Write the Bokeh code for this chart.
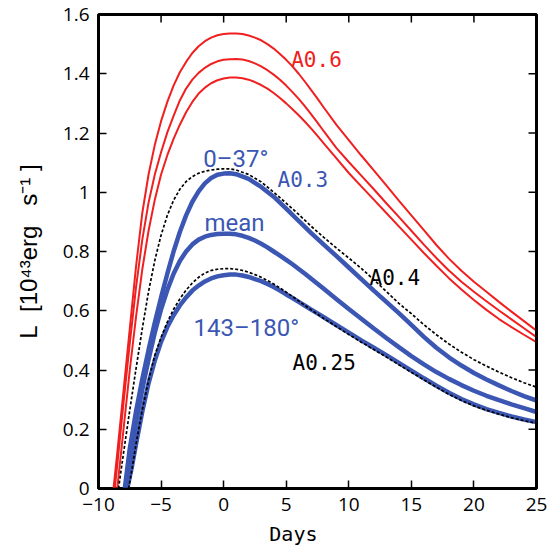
from bokeh.plotting import figure
from bokeh.models import FixedTicker, Label, Range1d
from bokeh.embed import file_html
from bokeh.resources import INLINE

# ---- data (days, luminosity in 1e43 erg/s) ----
r1_days = [-8.8, -8.5, -8.0, -7.5, -7.0, -6.5, -6.0, -5.5, -5.0, -4.5, -4.0, -3.5, -3.0, -2.5, -2.0, -1.5, -1.0, -0.5, 0.0, 0.5, 1.0, 1.5, 2.0, 2.5, 3.0, 3.5, 4.0, 4.5, 5.0, 5.5, 6.0, 6.5, 7.0, 7.5, 8.0, 9.0, 10.0, 11.0, 12.0, 13.0, 14.0, 15.0, 16.0, 17.0, 18.0, 19.0, 20.0, 21.0, 22.0, 23.0, 24.0, 25.0]
r1_lum = [0.0, 0.12, 0.33, 0.54, 0.75, 0.93, 1.06, 1.16, 1.24, 1.305, 1.36, 1.405, 1.44, 1.47, 1.493, 1.51, 1.522, 1.53, 1.534, 1.536, 1.536, 1.534, 1.529, 1.522, 1.513, 1.50, 1.485, 1.467, 1.447, 1.425, 1.40, 1.373, 1.345, 1.316, 1.286, 1.228, 1.176, 1.124, 1.074, 1.023, 0.972, 0.922, 0.872, 0.822, 0.776, 0.735, 0.698, 0.664, 0.63, 0.597, 0.565, 0.533]

r2_days = [-8.7, -8.5, -8.0, -7.5, -7.0, -6.5, -6.0, -5.5, -5.0, -4.5, -4.0, -3.5, -3.0, -2.5, -2.0, -1.5, -1.0, -0.5, 0.0, 0.5, 1.0, 1.5, 2.0, 2.5, 3.0, 3.5, 4.0, 4.5, 5.0, 5.5, 6.0, 6.5, 7.0, 7.5, 8.0, 9.0, 10.0, 11.0, 12.0, 13.0, 14.0, 15.0, 16.0, 17.0, 18.0, 19.0, 20.0, 21.0, 22.0, 23.0, 24.0, 25.0]
r2_lum = [0.0, 0.08, 0.29, 0.49, 0.68, 0.84, 0.965, 1.06, 1.135, 1.202, 1.258, 1.31, 1.35, 1.38, 1.403, 1.42, 1.433, 1.442, 1.447, 1.449, 1.45, 1.448, 1.443, 1.435, 1.425, 1.412, 1.397, 1.38, 1.36, 1.338, 1.315, 1.29, 1.263, 1.235, 1.206, 1.15, 1.102, 1.056, 1.01, 0.963, 0.917, 0.87, 0.823, 0.778, 0.736, 0.698, 0.664, 0.632, 0.601, 0.571, 0.541, 0.511]

r3_days = [-8.5, -8.0, -7.5, -7.0, -6.5, -6.0, -5.5, -5.0, -4.5, -4.0, -3.5, -3.0, -2.5, -2.0, -1.5, -1.0, -0.5, 0.0, 0.5, 1.0, 1.5, 2.0, 2.5, 3.0, 3.5, 4.0, 4.5, 5.0, 5.5, 6.0, 6.5, 7.0, 7.5, 8.0, 9.0, 10.0, 11.0, 12.0, 13.0, 14.0, 15.0, 16.0, 17.0, 18.0, 19.0, 20.0, 21.0, 22.0, 23.0, 24.0, 25.0]
r3_lum = [0.0, 0.20, 0.40, 0.58, 0.74, 0.87, 0.975, 1.06, 1.125, 1.18, 1.228, 1.27, 1.305, 1.333, 1.353, 1.368, 1.378, 1.384, 1.387, 1.387, 1.385, 1.38, 1.372, 1.362, 1.35, 1.335, 1.318, 1.30, 1.28, 1.26, 1.238, 1.215, 1.19, 1.165, 1.115, 1.065, 1.02, 0.975, 0.93, 0.885, 0.84, 0.795, 0.752, 0.71, 0.672, 0.636, 0.603, 0.572, 0.545, 0.519, 0.494]

a04_days = [-8.4, -8.0, -7.5, -7.0, -6.5, -6.0, -5.5, -5.0, -4.5, -4.0, -3.5, -3.0, -2.5, -2.0, -1.5, -1.0, -0.5, 0.0, 0.5, 1.0, 2.0, 3.0, 4.0, 5.0, 6.0, 7.0, 8.0, 9.0, 10.0, 11.0, 12.0, 13.0, 14.0, 15.0, 16.0, 17.0, 18.0, 19.0, 20.0, 21.0, 22.0, 23.0, 24.0, 25.0]
a04_lum = [0.0, 0.12, 0.265, 0.405, 0.54, 0.665, 0.77, 0.855, 0.922, 0.973, 1.01, 1.036, 1.053, 1.064, 1.071, 1.075, 1.078, 1.079, 1.079, 1.075, 1.06, 1.035, 1.0, 0.963, 0.925, 0.885, 0.848, 0.812, 0.778, 0.743, 0.705, 0.665, 0.625, 0.59, 0.553, 0.519, 0.488, 0.46, 0.435, 0.413, 0.393, 0.374, 0.357, 0.342]

b1_days = [-7.9, -7.5, -7.0, -6.5, -6.0, -5.5, -5.0, -4.5, -4.0, -3.5, -3.0, -2.5, -2.0, -1.5, -1.0, -0.5, 0.0, 0.5, 1.0, 2.0, 3.0, 4.0, 5.0, 6.0, 7.0, 8.0, 9.0, 10.0, 11.0, 12.0, 13.0, 14.0, 15.0, 16.0, 17.0, 18.0, 19.0, 20.0, 21.0, 22.0, 23.0, 24.0, 25.0]
b1_lum = [0.0, 0.135, 0.26, 0.37, 0.468, 0.56, 0.645, 0.725, 0.80, 0.866, 0.922, 0.968, 1.003, 1.03, 1.048, 1.059, 1.063, 1.064, 1.061, 1.045, 1.018, 0.985, 0.945, 0.903, 0.862, 0.823, 0.785, 0.746, 0.707, 0.668, 0.63, 0.592, 0.552, 0.512, 0.475, 0.443, 0.415, 0.39, 0.368, 0.348, 0.329, 0.312, 0.297]

b2_days = [-7.8, -7.5, -7.0, -6.5, -6.0, -5.5, -5.0, -4.5, -4.0, -3.5, -3.0, -2.5, -2.0, -1.5, -1.0, -0.5, 0.0, 0.5, 1.0, 1.5, 2.0, 2.5, 3.0, 3.5, 4.0, 4.5, 5.0, 5.5, 6.0, 6.5, 7.0, 7.5, 8.0, 9.0, 10.0, 11.0, 12.0, 13.0, 14.0, 15.0, 16.0, 17.0, 18.0, 19.0, 20.0, 21.0, 22.0, 23.0, 24.0, 25.0]
b2_lum = [0.0, 0.10, 0.225, 0.335, 0.435, 0.527, 0.605, 0.67, 0.725, 0.768, 0.80, 0.824, 0.84, 0.85, 0.856, 0.859, 0.86, 0.86, 0.858, 0.853, 0.846, 0.837, 0.826, 0.814, 0.80, 0.786, 0.772, 0.757, 0.741, 0.725, 0.708, 0.691, 0.674, 0.64, 0.606, 0.573, 0.54, 0.508, 0.477, 0.447, 0.419, 0.393, 0.37, 0.349, 0.33, 0.313, 0.298, 0.284, 0.271, 0.258]

b3_days = [-7.7, -7.34, -7.0, -6.5, -6.0, -5.5, -5.0, -4.5, -4.0, -3.5, -3.0, -2.5, -2.0, -1.5, -1.0, -0.5, 0.0, 0.5, 1.0, 1.5, 2.0, 2.5, 3.0, 3.5, 4.0, 4.5, 5.0, 5.5, 6.0, 6.5, 7.0, 7.5, 8.0, 9.0, 10.0, 11.0, 12.0, 13.0, 14.0, 15.0, 16.0, 17.0, 18.0, 19.0, 20.0, 21.0, 22.0, 23.0, 24.0, 25.0]
b3_lum = [0.0, 0.072, 0.15, 0.26, 0.355, 0.432, 0.495, 0.545, 0.585, 0.618, 0.645, 0.668, 0.685, 0.699, 0.709, 0.716, 0.72, 0.722, 0.722, 0.719, 0.714, 0.707, 0.70, 0.69, 0.68, 0.668, 0.655, 0.643, 0.63, 0.617, 0.604, 0.591, 0.578, 0.552, 0.526, 0.50, 0.475, 0.45, 0.424, 0.398, 0.372, 0.347, 0.323, 0.302, 0.284, 0.268, 0.255, 0.243, 0.233, 0.224]

a025_days = [-7.6, -7.34, -7.0, -6.5, -6.0, -5.5, -5.0, -4.5, -4.0, -3.5, -3.0, -2.5, -2.0, -1.5, -1.0, -0.5, 0.0, 0.5, 1.0, 1.5, 2.0, 2.5, 3.0, 3.5, 4.0, 4.5, 5.0, 5.5, 6.0, 7.0, 8.0, 9.0, 10.0, 11.0, 12.0, 13.0, 14.0, 15.0, 16.0, 17.0, 18.0, 19.0, 20.0, 21.0, 22.0, 23.0, 24.0, 25.0]
a025_lum = [0.0, 0.061, 0.15, 0.265, 0.365, 0.45, 0.51, 0.562, 0.605, 0.64, 0.67, 0.694, 0.713, 0.727, 0.736, 0.74, 0.742, 0.742, 0.74, 0.736, 0.73, 0.722, 0.713, 0.702, 0.69, 0.677, 0.663, 0.648, 0.633, 0.603, 0.574, 0.547, 0.52, 0.494, 0.469, 0.444, 0.418, 0.392, 0.367, 0.342, 0.318, 0.297, 0.279, 0.264, 0.251, 0.239, 0.229, 0.22]

x_ticks = [-10, -5, 0, 5, 10, 15, 20, 25]
y_ticks = [0, 0.2, 0.4, 0.6, 0.8, 1.0, 1.2, 1.4, 1.6]
y_tick_labels = ["0", "0.2", "0.4", "0.6", "0.8", "1", "1.2", "1.4", "1.6"]

RED = "#f02020"
BLUE = "#3b57b3"
NB = "\u00a0"
X0, X1, Y0, Y1 = -10, 25, 0, 1.6

p = figure(width=555, height=551, output_backend="svg", toolbar_location=None,
           x_range=Range1d(X0, X1), y_range=Range1d(Y0, Y1),
           min_border_left=98, min_border_right=19, min_border_top=14, min_border_bottom=63)
p.xgrid.grid_line_color = None
p.ygrid.grid_line_color = None
p.outline_line_color = "black"
p.outline_line_width = 3

for ax in [p.xaxis[0], p.yaxis[0]]:
    ax.major_tick_in = 8
    ax.major_tick_out = 0
    ax.minor_tick_in = 0
    ax.minor_tick_out = 0
    ax.axis_line_width = 1.5
    ax.axis_line_color = "black"
    ax.major_tick_line_width = 1.5
    ax.major_tick_line_color = "black"
    ax.major_label_text_font = "Open Sans"
    ax.major_label_text_font_size = "19px"
    ax.major_label_text_color = "black"
    ax.major_label_standoff = 9
    ax.axis_label_text_color = "black"
    ax.axis_label_text_font_style = "normal"

p.xaxis.ticker = FixedTicker(ticks=x_ticks)
p.yaxis.ticker = FixedTicker(ticks=y_ticks)
p.yaxis.major_label_overrides = {t: s for t, s in zip(y_ticks, y_tick_labels)}

p.yaxis.axis_label = "L" + NB * 2 + "[10\u2074\u00b3erg" + NB * 3 + "s\u207b\u00b9" + NB + "]"
p.yaxis.axis_label_text_font = "Liberation Sans"
p.yaxis.axis_label_text_font_size = "24px"
p.yaxis.axis_label_standoff = 18

p.xaxis.axis_label = "Days" + NB * 4
p.xaxis.axis_label_text_font = "DejaVu Sans Mono"
p.xaxis.axis_label_text_font_size = "20px"
p.xaxis.axis_label_standoff = 8

# curves
for d, l in [(r1_days, r1_lum), (r2_days, r2_lum), (r3_days, r3_lum)]:
    p.line(d, l, line_color=RED, line_width=2)
for d, l in [(b1_days, b1_lum), (b2_days, b2_lum), (b3_days, b3_lum)]:
    p.line(d, l, line_color=BLUE, line_width=4.5)
for d, l in [(a04_days, a04_lum), (a025_days, a025_lum)]:
    p.line(d, l, line_color="black", line_width=1.7, line_dash="3 2")

# frame top/right edges and mirrored inward ticks (drawn after the curves, solid)
tick_dx = (X1 - X0) * 8 / 438.0
tick_dy = (Y1 - Y0) * 8 / 474.0
p.line([X0, X1, X1], [Y1, Y1, Y0], line_color="black", line_width=3, line_dash="solid")
for t in x_ticks:
    p.line([t, t], [Y1, Y1 - tick_dy], line_color="black", line_width=1.5, line_dash="solid")
for t in y_ticks:
    p.line([X1, X1 - tick_dx], [t, t], line_color="black", line_width=1.5, line_dash="solid")

MONO = "DejaVu Sans Mono"
SANS = "Roboto"
labels = [
    ("A0.6", 5.40, 1.445, RED, MONO, "21px"),
    ("A0.3", 4.31, 1.040, BLUE, MONO, "21px"),
    ("A0.4", 11.66, 0.712, "black", MONO, "21px"),
    ("A0.25", 5.51, 0.425, "black", MONO, "21px"),
    ("0\u201337\u00b0", -1.63, 1.113, BLUE, SANS, "24px"),
    ("mean", -1.53, 0.895, BLUE, SANS, "24px"),
    ("143\u2013180\u00b0", -2.41, 0.543, BLUE, SANS, "24px"),
]
for txt, x, y, c, f, s in labels:
    p.add_layout(Label(x=x, y=y, text=txt, text_color=c, text_font=f, text_font_size=s,
                       text_baseline="alphabetic", text_align="left"))

open("out.html", "w").write(file_html(p, INLINE))
